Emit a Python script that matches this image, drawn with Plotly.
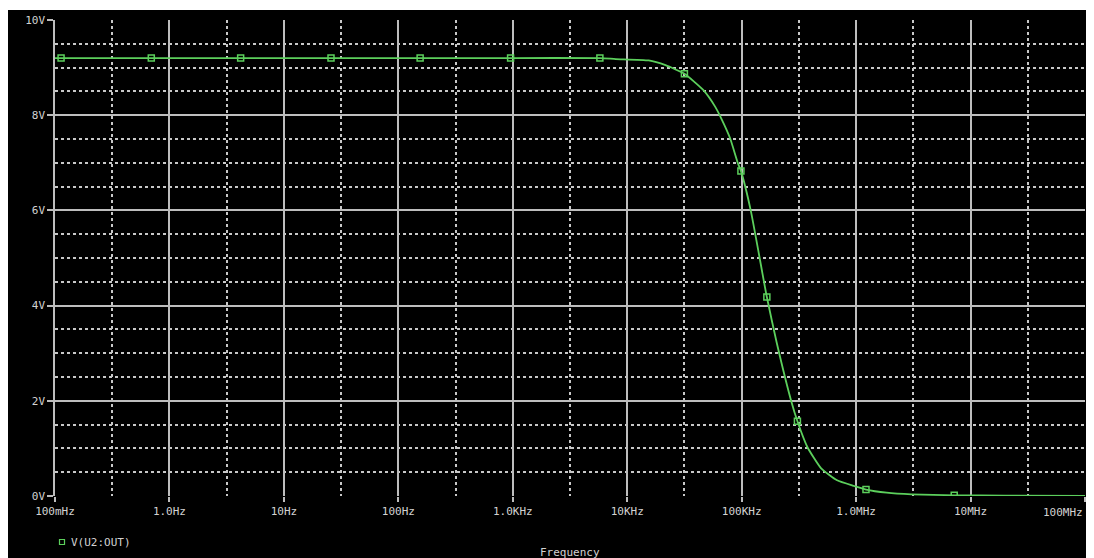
import plotly.graph_objects as go

# ---- data ----
FREQ_HZ = [0.1, 1, 10, 100, 1e3, 5.77e3, 7.94e3, 1.54e4, 2.16e4, 3.16e4, 4.61e4,
           5.86e4, 6.61e4, 7.91e4, 9.27e4, 9.85e4, 1.20e5, 1.66e5, 2.02e5,
           2.72e5, 3.07e5, 3.75e5, 4.95e5, 6.82e5, 9.6e5, 1.22e6, 1.85e6,
           3.05e6, 7.2e6, 2e7, 1e8]
V_OUT = [9.2, 9.2, 9.2, 9.2, 9.2, 9.2, 9.18, 9.15, 9.05, 8.87, 8.53,
         8.18, 7.94, 7.52, 6.99, 6.83, 6.0, 4.18, 3.23,
         1.98, 1.57, 1.03, 0.58, 0.33, 0.21, 0.135, 0.07,
         0.035, 0.015, 0.008, 0.003]

MARK_F = [0.113, 0.694, 4.19, 25.8, 155, 957, 5770, 3.16e4, 9.85e4, 1.66e5,
          3.07e5, 1.22e6, 7.2e6]
MARK_V = [9.2, 9.2, 9.2, 9.2, 9.2, 9.2, 9.2, 8.87, 6.83, 4.18, 1.57, 0.135, 0.015]

XTICK_VALS = [0.1, 1, 10, 100, 1e3, 1e4, 1e5, 1e6, 1e7, 1e8]
XTICK_LABELS = ["100mHz", "1.0Hz", "10Hz", "100Hz", "1.0KHz", "10KHz",
                "100KHz", "1.0MHz", "10MHz", "100MHz"]
XMINOR_VALS = [0.316, 3.16, 31.6, 316, 3160, 31600, 316000, 3.16e6, 3.16e7]
YTICK_VALS = [0, 2, 4, 6, 8, 10]
YTICK_LABELS = ["0V", "2V", "4V", "6V", "8V", "10V"]
SERIES_NAME = "V(U2:OUT)"
X_TITLE = "Frequency"

GREEN = "#5ccf5c"
GRID = "#bdbdbd"
DOTGRID = "#c8c8c8"
TXT = "#d2d2d2"
FONT = "DejaVu Sans Mono"

# page body has an 8px margin; visible width ends near x=1086
OFF = 8
W, H = 1086 - OFF, 558 - OFF
ML, MT = 55 - OFF, 20 - OFF
PW, PH = 1030, 476
MR, MB = W - ML - PW, H - MT - PH


def px_x(p):  # page pixel -> paper x
    return (p - OFF - ML) / PW


def px_y(p):  # page pixel -> paper y
    return (MT + PH - (p - OFF)) / PH


fig = go.Figure()
fig.add_trace(go.Scatter(x=FREQ_HZ, y=V_OUT, mode="lines",
                         line=dict(color=GREEN, width=1.8, shape="spline", smoothing=0.5),
                         showlegend=False, hoverinfo="skip"))
fig.add_trace(go.Scatter(x=MARK_F, y=MARK_V, mode="markers", name=SERIES_NAME,
                         marker=dict(symbol="square-open", size=6, color=GREEN,
                                     line=dict(color=GREEN, width=1.5)),
                         showlegend=False))

fig.update_xaxes(type="log", range=[-1, 8], tickvals=XTICK_VALS,
                 ticktext=XTICK_LABELS[:-1] + [""],
                 showgrid=True, gridcolor=GRID, gridwidth=1.5,
                 ticks="outside", ticklen=5, tickcolor=GRID, tickwidth=1.5,
                 showline=False, zeroline=False,
                 tickfont=dict(family=FONT, size=11, color=TXT),
                 minor=dict(tickvals=XMINOR_VALS, showgrid=True, gridcolor=DOTGRID,
                            gridwidth=1.5, griddash="3px,3px", ticks=""))
fig.update_yaxes(range=[0, 10], tickvals=YTICK_VALS, ticktext=YTICK_LABELS,
                 showgrid=True, gridcolor=GRID, gridwidth=1.5,
                 ticks="outside", ticklen=6, tickcolor=GRID, tickwidth=1.5,
                 showline=True, linecolor=GRID, linewidth=1.5, zeroline=False,
                 tickfont=dict(family=FONT, size=11, color=TXT),
                 minor=dict(dtick=0.5, showgrid=True, gridcolor=DOTGRID,
                            gridwidth=1.5, griddash="3px,3px", ticks=""))

shapes = [
    dict(type="rect", xref="paper", yref="paper", x0=px_x(0), x1=px_x(1094),
         y0=px_y(10), y1=px_y(7), fillcolor="white", line=dict(width=0), layer="above"),
    dict(type="rect", xref="paper", yref="paper", x0=px_x(59.5), x1=px_x(64.5),
         y0=px_y(544.5), y1=px_y(539.5), fillcolor="rgba(0,0,0,0)",
         line=dict(color=GREEN, width=1.2), layer="above"),
]

annotations = [
    dict(text=XTICK_LABELS[-1], xref="paper", yref="paper", x=1, y=px_y(512),
         xanchor="right", yanchor="middle", showarrow=False,
         font=dict(family=FONT, size=11, color=TXT)),
    dict(text=SERIES_NAME, xref="paper", yref="paper", x=px_x(69), y=px_y(542),
         xanchor="left", yanchor="middle", showarrow=False,
         font=dict(family=FONT, size=11, color=TXT)),
    dict(text=X_TITLE, xref="paper", yref="paper", x=0.5, y=px_y(552),
         xanchor="center", yanchor="middle", showarrow=False,
         font=dict(family=FONT, size=11, color=TXT)),
]

fig.update_layout(width=W, height=H, margin=dict(l=ML, r=MR, t=MT, b=MB),
                  paper_bgcolor="black", plot_bgcolor="black",
                  shapes=shapes, annotations=annotations, showlegend=False)

fig.write_html("out.html")
